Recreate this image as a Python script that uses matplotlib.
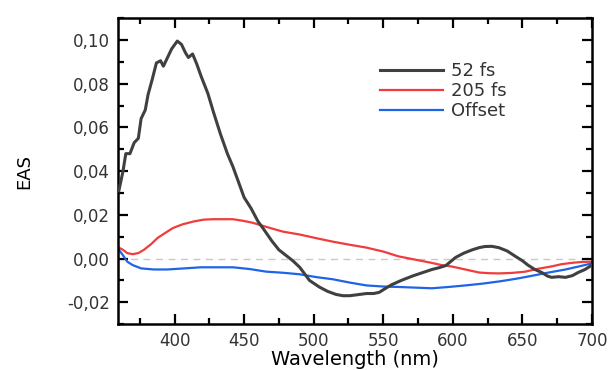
import matplotlib.pyplot as plt
from matplotlib.ticker import FuncFormatter, MultipleLocator

# 52 fs component
wl_52 = [360, 363, 365, 368, 371, 374, 376, 379, 381, 384, 387, 390, 392, 395,
         398, 402, 405, 408, 410, 413, 416, 419, 424, 428, 433, 438, 442, 446,
         450, 455, 460, 464, 470, 475, 480, 485, 490, 497, 504, 510, 516, 521,
         526, 532, 538, 543, 547, 552, 556, 563, 571, 578, 585, 590, 595, 602,
         608, 614, 619, 623, 628, 633, 639, 645, 650, 654, 659, 664, 668, 671,
         676, 681, 686, 690, 695, 700]
eas_52 = [0.031, 0.040, 0.048, 0.048, 0.053, 0.055, 0.064, 0.068, 0.075, 0.082,
          0.0895, 0.0905, 0.088, 0.092, 0.096, 0.0995, 0.098, 0.094, 0.092,
          0.0936, 0.089, 0.0836, 0.0755, 0.067, 0.057, 0.048, 0.042, 0.035,
          0.028, 0.023, 0.017, 0.0135, 0.008, 0.004, 0.0015, -0.001, -0.004,
          -0.010, -0.013, -0.015, -0.0164, -0.017, -0.017, -0.0165, -0.016,
          -0.016, -0.0155, -0.0135, -0.012, -0.010, -0.008, -0.0065, -0.005,
          -0.0042, -0.0032, 0.0005, 0.0025, 0.004, 0.005, 0.0055, 0.0056, 0.005,
          0.0035, 0.001, -0.001, -0.003, -0.005, -0.0064, -0.008, -0.0086,
          -0.0083, -0.0086, -0.0078, -0.0064, -0.005, -0.003]

# 205 fs component
wl_205 = [360, 363, 366, 370, 374, 378, 383, 388, 394, 399, 406, 414, 421, 428,
          435, 442, 449, 456, 467, 478, 490, 502, 514, 526, 538, 550, 561, 573,
          585, 592, 599, 609, 619, 626, 633, 642, 652, 661, 671, 678, 685, 692,
          700]
eas_205 = [0.005, 0.004, 0.0025, 0.002, 0.0025, 0.004, 0.0065, 0.0095, 0.012,
           0.014, 0.0157, 0.017, 0.0178, 0.018, 0.018, 0.018, 0.0173, 0.0164,
           0.0143, 0.0123, 0.011, 0.0093, 0.0077, 0.0063, 0.005, 0.0032, 0.001,
           -0.0005, -0.002, -0.003, -0.0036, -0.005, -0.0064, -0.0067, -0.0068,
           -0.0066, -0.006, -0.0047, -0.0036, -0.0026, -0.002, -0.0016, -0.0014]

# offset
wl_off = [360, 363, 366, 370, 376, 385, 395, 407, 419, 430, 442, 454, 466, 478,
          490, 502, 514, 526, 538, 550, 561, 573, 585, 597, 609, 621, 633, 645,
          656, 668, 681, 690, 700]
eas_off = [0.004, 0.0015, -0.0014, -0.003, -0.0045, -0.005, -0.005, -0.0045,
           -0.004, -0.004, -0.004, -0.0048, -0.006, -0.0065, -0.0072, -0.0085,
           -0.0095, -0.011, -0.0123, -0.0128, -0.013, -0.0133, -0.0136, -0.013,
           -0.0123, -0.0115, -0.0105, -0.0093, -0.008, -0.0065, -0.005, -0.0037,
           -0.0022]

plt.rcParams["font.family"] = "DejaVu Sans"
plt.rcParams["text.color"] = "#333333"
plt.rcParams["xtick.labelcolor"] = "#333333"
plt.rcParams["ytick.labelcolor"] = "#333333"

fig = plt.figure(figsize=(6.09, 3.70), dpi=100)
ax = fig.add_axes([0.194, 0.124, 0.778, 0.827])

ax.axhline(0, color="#c8c8c8", lw=1, ls=(0, (5, 4)), zorder=1)
ax.plot(wl_52, eas_52, color="#404040", lw=2.2, label="52 fs", zorder=3)
ax.plot(wl_205, eas_205, color="#f03c3c", lw=1.6, label="205 fs", zorder=2)
ax.plot(wl_off, eas_off, color="#1e64e6", lw=1.6, label="Offset", zorder=2)

ax.set_xlim(359.5, 700)
ax.set_ylim(-0.03, 0.11)
ax.xaxis.set_major_locator(MultipleLocator(50))
ax.xaxis.set_minor_locator(MultipleLocator(25))
ax.yaxis.set_major_locator(MultipleLocator(0.02))
ax.yaxis.set_minor_locator(MultipleLocator(0.01))
ax.yaxis.set_major_formatter(
    FuncFormatter(lambda v, p: f"{v:.2f}".replace(".", ",").replace("-0,00", "0,00"))
)

ax.tick_params(which="both", direction="in", top=True, right=True,
               labelsize=12, width=1.6)
ax.tick_params(which="major", length=7, pad=6)
ax.tick_params(which="minor", length=4)
for sp in ax.spines.values():
    sp.set_linewidth(1.8)

ax.set_xlabel("Wavelength (nm)", fontsize=14, labelpad=0)
ax.set_ylabel("EAS", fontsize=13, labelpad=24)

ax.legend(loc="upper left", bbox_to_anchor=(0.537, 0.88), frameon=False,
          fontsize=13, handlelength=3.5, labelspacing=0.12, handletextpad=0.45,
          borderaxespad=0)

fig.savefig("out.png", dpi=100)
